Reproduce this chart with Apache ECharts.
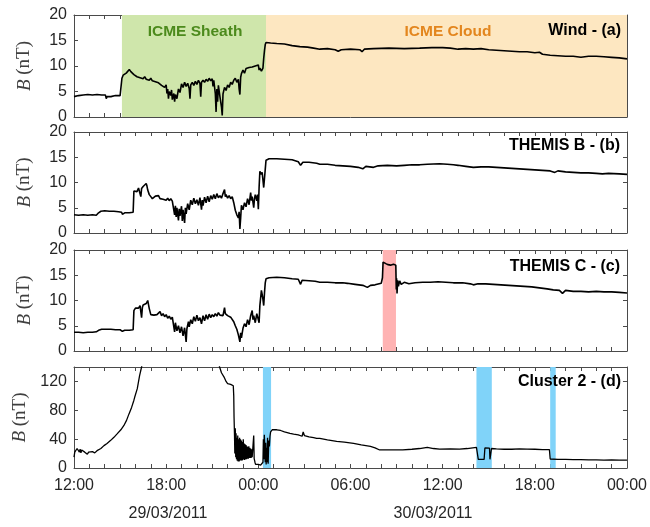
<!DOCTYPE html>
<html>
<head>
<meta charset="utf-8">
<script src="https://cdn.jsdelivr.net/npm/echarts@6/dist/echarts.min.js"></script>
<style>html,body{margin:0;padding:0;background:#fff}#c{width:650px;height:527px}</style>
</head>
<body>
<div id="c"></div>
<script>
// time in hours since 29/03/2011 12:00
const hourTicks = [0, 6, 12, 18, 24, 30, 36];
const dateLabels = ['29/03/2011', '30/03/2011'];
const panelTitles = ['Wind - (a)', 'THEMIS B - (b)', 'THEMIS C - (c)', 'Cluster 2 - (d)'];
const sheathBand = [3.12, 12.5];
const cloudBand = [12.5, 36];
const redBands = [[20.1, 20.96]];
const blueBands = [[12.3, 12.83], [26.2, 27.2], [31.0, 31.36]];

const windB = [[0,4.0],[0.3,4.2],[0.6,4.3],[0.9,4.4],[1.2,4.3],[1.5,4.4],[1.8,4.3],[2.05,4.3],[2.1,3.6],[2.15,4.0],[2.4,4.0],[2.7,4.2],[3.0,4.2],[3.1,4.3],
[3.12,7.6],[3.2,8.2],[3.3,8.0],[3.4,8.6],[3.5,8.9],[3.6,9.3],[3.7,8.9],[3.8,8.6],[3.9,8.3],[4.0,8.6],[4.1,7.9],[4.2,8.2],[4.3,7.7],[4.4,8.0],[4.5,7.5],[4.6,7.9],[4.7,7.4],[4.8,7.6],[4.9,7.2],[5.0,7.6],[5.1,7.1],[5.2,7.3],[5.3,6.9],[5.4,7.2],[5.5,6.7],[5.6,6.9],[5.7,6.2],[5.8,6.5],[5.9,5.8],[6.0,6.3],[6.05,4.6],[6.1,5.5],[6.15,3.6],[6.2,5.0],[6.3,4.2],[6.35,5.3],[6.4,3.4],[6.5,4.6],[6.55,3.0],[6.6,4.4],[6.7,3.6],[6.8,5.5],[6.9,4.8],[7.0,6.5],[7.1,5.8],[7.2,6.8],[7.3,6.0],[7.4,6.6],[7.5,5.6],[7.55,3.6],[7.6,6.3],[7.7,6.8],[7.8,6.2],[7.9,7.0],[8.0,6.4],[8.1,7.2],[8.2,6.6],[8.25,4.0],[8.3,6.8],[8.4,7.2],[8.5,6.8],[8.6,7.4],[8.7,7.0],[8.8,7.6],[8.9,7.1],[9.0,7.5],[9.05,6.0],[9.1,7.2],[9.2,4.6],[9.25,1.0],[9.3,5.5],[9.35,3.0],[9.4,6.2],[9.5,4.0],[9.6,2.0],[9.65,0.3],[9.7,4.5],[9.8,5.8],[9.9,5.2],[10.0,6.3],[10.1,5.8],[10.2,6.8],[10.3,6.4],[10.4,7.2],[10.5,7.6],[10.6,6.8],[10.7,7.4],[10.75,5.5],[10.8,4.4],[10.85,7.8],[10.9,8.5],[11.0,9.2],[11.1,8.6],[11.2,9.5],[11.3,9.2],[11.4,9.7],[11.5,9.5],[11.6,9.8],[11.7,9.6],[11.8,10.0],[11.9,9.8],[12.0,10.2],[12.05,9.2],[12.1,9.6],[12.2,9.0],[12.3,9.6],[12.35,11.5],[12.4,13.0],[12.45,14.2],[12.5,14.6],
[12.8,14.5],[13.2,14.4],[13.7,14.3],[14.2,14.0],[14.7,13.8],[15.2,13.7],[15.6,13.5],[16.0,13.3],[16.5,13.4],[17.0,13.2],[17.2,12.9],[17.4,13.2],[18.0,13.3],[18.6,13.2],[18.75,12.8],[18.9,13.3],[19.5,13.4],[20.5,13.5],[21.5,13.4],[22.5,13.5],[23.3,13.6],[24.0,13.6],[24.5,13.5],[25.0,13.3],[25.5,13.4],[26.0,13.3],[26.5,13.4],[27.0,13.2],[27.5,13.1],[28.0,13.0],[28.5,12.9],[29.0,12.8],[29.5,12.8],[30.0,12.6],[30.3,12.7],[30.5,12.3],[31.0,12.1],[31.5,12.0],[32.0,11.9],[32.5,11.9],[33.0,11.7],[33.5,11.9],[34.0,11.9],[34.5,11.8],[35.0,11.7],[35.5,11.6],[36.0,11.4]];

const themisB = [[0,3.6],[0.3,3.5],[0.6,3.6],[0.9,3.5],[1.2,3.6],[1.45,3.5],[1.6,4.0],[1.75,4.3],[2.0,4.4],[2.3,4.3],[2.6,4.3],[2.9,4.2],[3.1,4.1],[3.15,3.7],[3.3,4.0],[3.6,4.0],[3.85,4.1],
[3.9,8.3],[4.0,8.6],[4.1,8.2],[4.2,8.9],[4.3,8.6],[4.35,7.2],[4.4,8.8],[4.5,9.2],[4.6,9.0],[4.7,9.8],[4.75,9.3],[4.8,8.5],[4.9,7.6],[5.0,7.2],[5.1,6.8],[5.2,6.9],[5.3,7.3],[5.4,7.0],[5.5,7.4],[5.6,6.8],[5.7,7.1],[5.8,6.7],[5.9,7.0],[6.0,6.5],[6.1,6.9],[6.2,6.4],[6.3,6.8],[6.4,6.3],[6.5,6.6],[6.55,3.6],[6.6,5.4],[6.65,3.2],[6.7,5.0],[6.8,2.5],[6.85,4.8],[6.9,3.4],[7.0,5.3],[7.05,2.4],[7.1,4.6],[7.2,2.0],[7.25,5.0],[7.3,3.8],[7.4,5.8],[7.5,4.6],[7.6,6.5],[7.7,5.6],[7.8,6.9],[7.9,5.8],[8.0,6.6],[8.1,5.5],[8.2,7.0],[8.3,4.6],[8.35,6.5],[8.4,5.4],[8.5,7.1],[8.6,6.0],[8.7,7.3],[8.8,6.2],[8.9,7.4],[9.0,6.7],[9.1,7.6],[9.2,6.8],[9.3,7.8],[9.4,7.0],[9.5,7.4],[9.6,6.9],[9.7,7.8],[9.8,8.6],[9.85,7.2],[9.9,7.6],[10.0,6.9],[10.1,7.4],[10.2,6.8],[10.3,7.2],[10.4,6.0],[10.5,4.5],[10.6,3.6],[10.7,3.0],[10.75,4.2],[10.8,0.8],[10.85,3.0],[10.9,5.5],[11.0,4.6],[11.1,6.0],[11.2,5.2],[11.3,6.8],[11.4,5.6],[11.5,8.0],[11.55,6.4],[11.6,7.2],[11.7,5.0],[11.75,6.8],[11.8,7.6],[11.9,6.4],[11.95,7.6],[12.0,4.7],[12.05,9.0],[12.1,12.2],[12.2,11.6],[12.25,12.0],[12.3,10.5],[12.35,9.0],[12.4,10.8],[12.45,12.6],[12.5,14.4],[12.7,14.7],
[13.2,14.7],[13.7,14.6],[14.2,14.5],[14.6,14.1],[14.75,13.4],[14.9,14.0],[15.3,14.0],[15.8,13.8],[16.0,13.6],[16.5,13.6],[17.0,13.4],[17.5,13.3],[18.0,13.2],[18.5,13.0],[18.8,12.7],[19.0,13.2],[19.5,13.0],[19.8,13.3],[20.4,13.4],[21.0,13.3],[21.5,13.4],[22.0,13.5],[22.5,13.5],[23.0,13.6],[23.8,13.7],[24.3,13.6],[24.7,13.5],[25.0,13.4],[25.5,13.2],[26.0,13.0],[26.5,13.1],[27.0,13.1],[27.5,13.0],[28.0,12.9],[28.5,12.8],[29.0,12.7],[29.5,12.6],[30.0,12.5],[30.5,12.4],[31.0,12.3],[31.3,12.0],[31.5,12.3],[32.0,12.1],[32.5,12.0],[33.0,11.9],[33.5,11.9],[34.0,11.8],[34.4,11.7],[34.8,11.8],[35.5,11.7],[36.0,11.6]];

const themisC = [[0,3.7],[0.3,3.7],[0.6,3.6],[0.9,3.7],[1.2,3.7],[1.45,3.8],[1.6,4.1],[1.8,4.3],[2.1,4.3],[2.4,4.3],[2.7,4.2],[3.0,4.2],[3.15,3.9],[3.3,4.1],[3.6,4.1],[3.85,4.2],
[3.9,8.0],[4.0,8.5],[4.1,8.8],[4.2,8.5],[4.3,9.0],[4.4,6.6],[4.45,8.6],[4.5,9.1],[4.6,8.8],[4.7,9.4],[4.8,10.0],[4.85,9.2],[4.9,8.4],[5.0,7.2],[5.1,6.9],[5.2,7.1],[5.3,6.8],[5.4,7.2],[5.5,7.0],[5.6,7.8],[5.7,7.0],[5.8,7.4],[5.9,6.8],[6.0,7.2],[6.1,6.5],[6.2,6.9],[6.3,6.3],[6.4,6.7],[6.5,6.4],[6.55,3.8],[6.6,5.6],[6.7,4.0],[6.8,5.0],[6.9,3.6],[7.0,4.8],[7.1,3.0],[7.2,4.6],[7.3,1.8],[7.35,4.4],[7.45,5.8],[7.5,4.8],[7.6,6.2],[7.7,5.4],[7.8,6.8],[7.9,5.9],[8.0,7.1],[8.1,6.0],[8.2,6.6],[8.3,5.4],[8.4,7.0],[8.5,6.0],[8.6,7.2],[8.7,6.3],[8.8,7.3],[8.9,6.6],[9.0,7.2],[9.1,6.8],[9.2,7.4],[9.3,6.9],[9.4,7.6],[9.5,7.1],[9.6,7.4],[9.7,7.0],[9.8,8.6],[9.85,7.4],[9.9,7.7],[10.0,7.0],[10.1,7.3],[10.2,6.7],[10.3,6.9],[10.4,5.8],[10.5,5.0],[10.6,4.3],[10.7,3.2],[10.8,1.8],[10.85,3.6],[10.9,2.6],[11.0,4.5],[11.1,5.4],[11.2,4.8],[11.3,6.2],[11.4,5.2],[11.5,7.0],[11.6,8.0],[11.65,6.2],[11.7,7.0],[11.8,5.6],[11.9,7.4],[12.0,7.6],[12.05,5.6],[12.1,9.0],[12.2,12.0],[12.25,11.2],[12.3,10.2],[12.35,9.0],[12.4,11.5],[12.45,13.5],[12.5,14.3],[12.7,14.5],
[13.2,14.6],[13.7,14.5],[14.2,14.3],[14.6,14.2],[14.75,13.2],[14.85,14.0],[15.3,13.9],[15.7,13.8],[16.0,13.6],[16.5,13.6],[17.0,13.5],[17.5,13.5],[17.8,13.4],[18.3,13.2],[18.8,13.0],[19.1,12.6],[19.3,13.0],[19.6,13.1],[20.0,13.4],[20.08,14.5],[20.12,17.6],[20.2,17.8],[20.3,17.3],[20.45,17.1],[20.6,17.0],[20.8,17.2],[20.9,17.4],[20.95,17.0],[20.98,12.2],[21.0,14.4],[21.03,11.4],[21.07,14.0],[21.12,12.8],[21.2,13.9],[21.3,13.2],[21.5,13.6],[21.8,13.3],[22.2,13.5],[22.7,13.6],[23.2,13.6],[23.7,13.7],[24.2,13.6],[24.7,13.5],[25.3,13.5],[25.8,13.3],[26.0,13.1],[26.3,13.3],[26.8,13.3],[27.3,13.2],[27.8,13.1],[28.3,13.0],[28.8,12.9],[29.3,12.8],[29.8,12.7],[30.3,12.5],[30.8,12.3],[31.2,12.1],[31.6,12.0],[31.8,11.4],[32.0,12.0],[32.5,11.8],[33.0,11.8],[33.5,11.7],[34.0,11.8],[34.5,11.7],[35.0,11.7],[35.5,11.6],[36.0,11.5]];

const cluster2 = [[0,15],[0.05,22],[0.1,24.5],[0.15,21],[0.2,27],[0.25,25],[0.3,28],[0.35,22],[0.4,26],[0.45,21],[0.5,25],[0.55,24],[0.6,27],[0.7,22],[0.8,20],[0.87,19],[0.95,22],[1.08,21],[1.2,22.6],[1.35,21],[1.5,24],[1.63,25],[1.75,27],[1.95,31],[2.15,34],[2.39,38.3],[2.6,42.5],[2.82,47.6],[3.05,53],[3.25,59],[3.42,66],[3.58,75],[3.75,84],[3.9,94],[3.95,98],[4.0,98.5],[4.12,110],[4.27,128],[4.4,140],[4.5,152],
[9.35,152],[9.48,140],[9.6,132],[9.77,126],[9.9,120],[10.0,117],[10.1,116],[10.2,116],[10.3,115],[10.37,114],[10.4,100],[10.42,70],[10.45,45],[10.47,20],[10.5,55],[10.53,15],[10.55,48],[10.58,12],[10.6,42],[10.63,10],[10.66,45],[10.69,9],[10.72,40],[10.75,9],[10.78,42],[10.81,10],[10.84,40],[10.87,11],[10.9,38],[10.93,10],[10.96,36],[10.99,11],[11.02,40],[11.05,12],[11.08,34],[11.11,11],[11.14,33],[11.17,12],[11.2,32],[11.23,12],[11.26,30],[11.29,13],[11.32,29],[11.35,13],[11.38,30],[11.41,14],[11.44,28],[11.47,14],[11.5,27],[11.53,14],[11.56,26],[11.6,15],[11.65,13],[11.7,45],[11.73,13],[11.78,8],[11.82,5],[12.0,5],[12.15,4],[12.25,6],[12.3,8],[12.33,40],[12.36,12],[12.39,46],[12.42,30],[12.45,8],[12.48,35],[12.51,5],[12.54,28],[12.57,8],[12.6,42],[12.64,6],[12.68,38],[12.72,30],[12.76,44],[12.8,50],[12.9,53],[13.0,54],[13.2,53],[13.45,52],[13.7,50],[14.06,48],[14.3,47],[14.6,46],[14.85,44],[14.92,50],[15.0,45],[15.3,43],[15.6,42],[15.8,41],[16.0,41],[16.5,39],[17.1,37],[17.6,36],[18.2,34],[18.7,32],[19.3,30],[19.6,28],[19.9,25],[20.4,25],[21.0,25],[21.4,25],[22.0,26],[22.5,27],[23.0,28.6],[23.4,27],[23.8,26.3],[24.5,26.5],[25.1,26.3],[25.6,27],[26.2,28.6],[26.3,28],[26.32,12],[26.7,12],[26.75,27.7],[27.05,27.5],[27.08,12],[27.15,12],[27.18,27],[27.5,26.5],[28.0,26],[28.5,26],[29.0,26.5],[29.5,26.2],[30.0,26],[30.5,25.5],[30.95,25.5],[31.0,12.5],[31.5,12],[32.0,12],[32.5,11.5],[33.0,11.5],[33.5,11.3],[34.0,11.3],[34.5,11],[35.0,11.2],[35.5,11],[36.0,11]];

const panelData = [windB, themisB, themisC, cluster2];
const yMax = [20, 20, 20, 140];
const yInterval = [5, 5, 5, 40];

const tops = [15, 132, 250, 367];
const heights = [102, 101, 101, 101];
const lineWidths = [1.6, 1.6, 1.6, 1.3];
const frameColor = '#4a4a4a';
const labelColor = '#262626';

function fmtHour(v) {
  const h = (12 + Math.round(v)) % 24;
  return (h < 10 ? '0' : '') + h + ':00';
}

const grids = [], xAxes = [], yAxes = [], series = [];
for (let i = 0; i < 4; i++) {
  grids.push({ left: 74, right: 23, top: tops[i], height: heights[i] });
  const baseX = {
    type: 'value', gridIndex: i, min: hourTicks[0], max: hourTicks[hourTicks.length - 1], interval: 6,
    axisLine: { show: true, onZero: false, lineStyle: { color: frameColor, width: 1 } },
    axisTick: { show: true, inside: true, length: 4, lineStyle: { color: frameColor } },
    minorTick: { show: true, splitNumber: 6, length: 4, lineStyle: { color: frameColor } },
    splitLine: { show: false }, minorSplitLine: { show: false }
  };
  xAxes.push(Object.assign({}, baseX, {
    position: 'bottom',
    axisLabel: { show: i === 3, formatter: fmtHour, color: labelColor, fontSize: 16, margin: 10, fontFamily: 'Liberation Sans, Arial, sans-serif' }
  }));
  xAxes.push(Object.assign({}, baseX, { position: 'top', axisLabel: { show: false } }));
  const baseY = {
    type: 'value', gridIndex: i, min: 0, max: yMax[i], interval: yInterval[i],
    axisLine: { show: true, onZero: false, lineStyle: { color: frameColor, width: 1 } },
    axisTick: { show: true, inside: true, length: 4, lineStyle: { color: frameColor } },
    splitLine: { show: false }
  };
  yAxes.push(Object.assign({}, baseY, {
    position: 'left',
    name: '{i|B} (nT)', nameLocation: 'middle', nameGap: 40, nameRotate: 90,
    nameTextStyle: { fontFamily: 'Liberation Serif, DejaVu Serif, serif', fontSize: 19, color: '#404040',
      rich: { i: { fontStyle: 'italic', fontFamily: 'Liberation Serif, DejaVu Serif, serif', fontSize: 19, color: '#404040' } } },
    axisLabel: { color: labelColor, fontSize: 16, margin: 7, showMaxLabel: i !== 3, fontFamily: 'Liberation Sans, Arial, sans-serif' }
  }));
  yAxes.push(Object.assign({}, baseY, { position: 'right', axisLabel: { show: false } }));

  const areas = [];
  if (i === 0) {
    areas.push([{ xAxis: sheathBand[0], itemStyle: { color: '#cfe6ab' } }, { xAxis: sheathBand[1] }]);
    areas.push([{ xAxis: cloudBand[0], itemStyle: { color: '#fde7c1' } }, { xAxis: cloudBand[1] }]);
  }
  if (i === 2) redBands.forEach(b => areas.push([{ xAxis: b[0], itemStyle: { color: '#ffb3b3' } }, { xAxis: b[1] }]));
  if (i === 3) blueBands.forEach(b => areas.push([{ xAxis: b[0], itemStyle: { color: '#80d3f9' } }, { xAxis: b[1] }]));

  series.push({
    type: 'line', xAxisIndex: 2 * i, yAxisIndex: 2 * i, data: panelData[i],
    showSymbol: false, symbol: 'none', clip: true, animation: false,
    lineStyle: { color: '#000', width: lineWidths[i] },
    markArea: { silent: true, data: areas }
  });
}

const titleRights = [29, 30, 30, 29];
const titleYs = [32, 147, 268, 383];
const graphics = panelTitles.map((t, i) => ({
  type: 'text', right: titleRights[i], top: titleYs[i] - 9,
  style: { text: t, font: 'bold 16px Liberation Sans, Arial, sans-serif', fill: '#000' }, z: 10
}));
graphics.push({ type: 'text', x: 195, y: 32, style: { text: 'ICME Sheath', align: 'center', verticalAlign: 'middle', font: 'bold 15.5px Liberation Sans, Arial, sans-serif', fill: '#4c8a1c' }, z: 10 });
graphics.push({ type: 'text', x: 448, y: 32, style: { text: 'ICME Cloud', align: 'center', verticalAlign: 'middle', font: 'bold 15.5px Liberation Sans, Arial, sans-serif', fill: '#e3861e' }, z: 10 });
graphics.push({ type: 'text', x: 168, y: 514, style: { text: dateLabels[0], align: 'center', verticalAlign: 'middle', font: '16px Liberation Sans, Arial, sans-serif', fill: labelColor } });
graphics.push({ type: 'text', x: 433, y: 514, style: { text: dateLabels[1], align: 'center', verticalAlign: 'middle', font: '16px Liberation Sans, Arial, sans-serif', fill: labelColor } });

const chart = echarts.init(document.getElementById('c'), null, { renderer: 'canvas' });
chart.setOption({
  animation: false,
  backgroundColor: '#fff',
  grid: grids, xAxis: xAxes, yAxis: yAxes, series: series, graphic: graphics
});
</script>
</body>
</html>
